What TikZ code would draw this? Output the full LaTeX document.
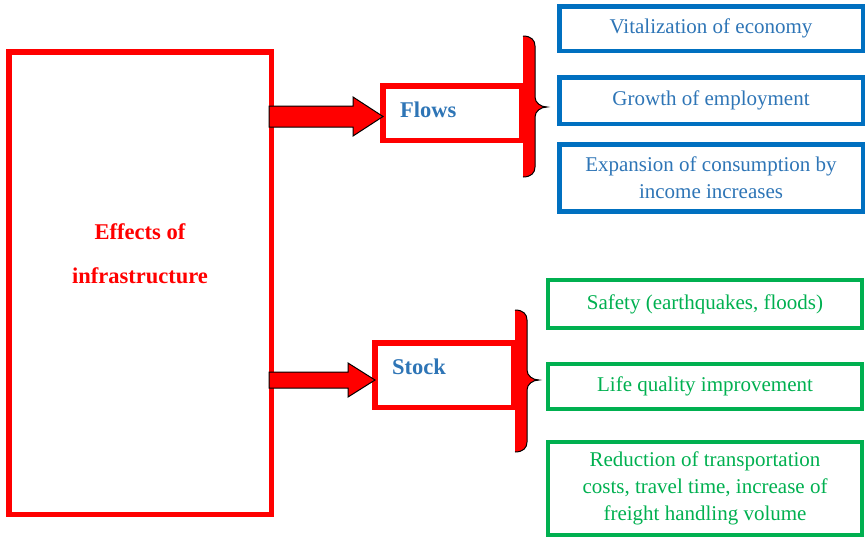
\documentclass[tikz,border=0pt]{standalone}
\usepackage{fontspec}
\setmainfont{Liberation Serif}
\usepackage{xcolor}
\usepackage{tikz}
\usetikzlibrary{calc,positioning}

\definecolor{effred}{HTML}{FF0000}
\definecolor{flowblue}{HTML}{0070C0}
\definecolor{flowtext}{HTML}{2E75B6}
\definecolor{stockgreen}{HTML}{00B050}

\begin{document}
\begin{tikzpicture}[x=1pt,y=-1pt,line join=miter,
    redbox/.style={draw=effred,line width=5.5pt,inner sep=0pt},
    boldlbl/.style={inner sep=0pt,font=\fontsize{22.5}{44}\selectfont\bfseries},
    bluebox/.style={draw=flowblue,line width=4.5pt,text=flowtext,align=center,
      font=\fontsize{21}{27}\selectfont,minimum width=303.5pt},
    greenbox/.style={draw=stockgreen,line width=4pt,text=stockgreen,align=center,
      font=\fontsize{21}{26.7}\selectfont,minimum width=314pt},
    blockarrow/.style={fill=effred,draw=black,line width=1pt}]
  \useasboundingbox (0,0) rectangle (866,539);

  % braces
  \foreach \bx/\bt/\bm/\bb in {523/36/107/177, 515/310/380/452} {
    \fill[effred] (\bx,\bt) .. controls (\bx+8,\bt) and (\bx+12,\bt+4) .. (\bx+12,\bt+10)
      -- (\bx+12,\bm-10) .. controls (\bx+12,\bm-4) and (\bx+18,\bm) .. (\bx+24,\bm)
      .. controls (\bx+18,\bm) and (\bx+12,\bm+4) .. (\bx+12,\bm+10)
      -- (\bx+12,\bb-10) .. controls (\bx+12,\bb-4) and (\bx+8,\bb) .. (\bx,\bb) -- cycle;
    \draw[line width=1pt] (\bx,\bt) .. controls (\bx+8,\bt) and (\bx+12,\bt+4) .. (\bx+12,\bt+10)
      -- (\bx+12,\bm-10) .. controls (\bx+12,\bm-4) and (\bx+18,\bm) .. (\bx+24,\bm)
      .. controls (\bx+18,\bm) and (\bx+12,\bm+4) .. (\bx+12,\bm+10)
      -- (\bx+12,\bb-10) .. controls (\bx+12,\bb-4) and (\bx+8,\bb) .. (\bx,\bb);
  }

  % left box
  \node[redbox,minimum width=262.5pt,minimum height=462.5pt] (main) at (140,283) {};
  \node[boldlbl,text=effred,align=center] (mainlbl) at (140,254) {Effects of\\infrastructure};

  % flows and stock
  \node[redbox,minimum width=139.25pt,minimum height=54.5pt] (flows) at (452.4,113) {};
  \node[boldlbl,text=flowtext,anchor=west] (flowslbl) at (400,110) {Flows};
  \node[redbox,minimum width=139.25pt,minimum height=64.5pt] (stock) at (444.4,375) {};
  \node[boldlbl,text=flowtext,anchor=west] (stocklbl) at (392,367) {Stock};

  % flow effects
  \node[bluebox,minimum height=44.5pt] (vital) at (711,28.5) {Vitalization of economy};
  \node[bluebox,minimum height=46.5pt] (employ) at (711,100.5) {Growth of employment};
  \node[bluebox,minimum height=67pt] (consum) at (711,177.75) {Expansion of consumption by\\income increases};

  % stock effects
  \node[greenbox,minimum height=48pt] (safety) at (705,304) {Safety (earthquakes, floods)};
  \node[greenbox,minimum height=45pt] (life) at (705,386.5) {Life quality improvement};
  \node[greenbox,minimum height=93pt] (transport) at (705,488.5) {Reduction of transportation\\costs, travel time, increase of\\freight handling volume};

  % block arrows
  \coordinate (a1s) at ($(main.east |- flows.west)+(-5,3.5)$);
  \coordinate (a1t) at ($(flows.west)+(3,3.5)$);
  \coordinate (a2s) at ($(main.east |- stock.west)+(-5,5)$);
  \coordinate (a2t) at ($(stock.west)+(3,5)$);
  \foreach \s/\t/\sw/\hw/\hl in {a1s/a1t/10.5/19.5/30, a2s/a2t/8/17/27}
    \filldraw[blockarrow] ($(\s)+(0,-\sw)$) -- ($(\t)+(-\hl,-\sw)$) -- ($(\t)+(-\hl,-\hw)$)
      -- (\t) -- ($(\t)+(-\hl,\hw)$) -- ($(\t)+(-\hl,\sw)$) -- ($(\s)+(0,\sw)$) -- cycle;
\end{tikzpicture}
\end{document}
